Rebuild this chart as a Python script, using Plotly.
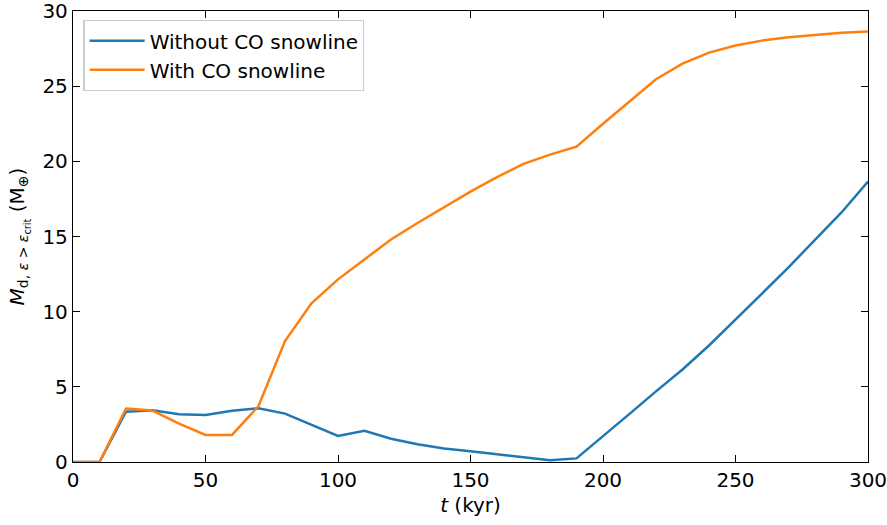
import plotly.graph_objects as go

t_kyr = [0, 10, 20, 30, 40, 50, 60, 70, 80, 90, 100, 110, 120, 130, 140, 150,
         160, 170, 180, 190, 200, 210, 220, 230, 240, 250, 260, 270, 280, 290, 300]

without_co = [0.0, 0.0, 3.35, 3.44, 3.17, 3.13, 3.41, 3.58, 3.22, 2.5, 1.73, 2.08,
              1.55, 1.18, 0.9, 0.72, 0.52, 0.28, 0.11, 0.24, 1.7, 3.2, 4.7, 6.15,
              7.75, 9.45, 11.2, 12.95, 14.75, 16.6, 18.65]

with_co = [0.0, 0.0, 3.55, 3.42, 2.55, 1.8, 1.8, 3.72, 8.05, 10.55, 12.15, 13.5,
           14.8, 15.9, 16.95, 17.98, 18.95, 19.83, 20.45, 20.98, 22.5, 24.0,
           25.46, 26.5, 27.23, 27.7, 28.03, 28.25, 28.42, 28.55, 28.63]

names = ["Without CO snowline", "With CO snowline"]
colors = ["#1f77b4", "#ff7f0e"]

x_ticks = [0, 50, 100, 150, 200, 250, 300]
y_ticks = [0, 5, 10, 15, 20, 25, 30]

font_family = "DejaVu Sans"
fs = 20

fig = go.Figure()
for name, ys, c in zip(names, [without_co, with_co], colors):
    fig.add_trace(go.Scatter(x=t_kyr, y=ys, mode="lines", name=name,
                             line=dict(color=c, width=2.5)))

axis_common = dict(
    showline=True, linecolor="black", linewidth=1.3, mirror="ticks",
    ticks="inside", ticklen=7, tickwidth=1.3, tickcolor="black",
    showgrid=False, zeroline=False, automargin=False,
    ticklabeloverflow="allow",
    tickfont=dict(family=font_family, size=fs, color="black"),
)

fig.update_xaxes(range=[0, 300], tickvals=x_ticks,
                 title=dict(text="<i>t</i> (kyr)", font=dict(family=font_family, size=fs, color="black"), standoff=6),
                 **axis_common)
fig.update_yaxes(range=[0, 30], tickvals=y_ticks,
                 title=dict(text="<i>M</i><sub>d, <i>ε</i> > <i>ε</i><sub>crit</sub></sub> (M<sub>⊕</sub>)",
                            font=dict(family=font_family, size=fs, color="black"), standoff=12),
                 **axis_common)

fig.update_layout(
    width=887, height=525,
    margin=dict(l=73, r=19, t=11, b=63),
    paper_bgcolor="white", plot_bgcolor="white",
    font=dict(family=font_family, size=fs, color="black"),
    showlegend=True,
    legend=dict(x=0.013, y=0.98, xanchor="left", yanchor="top",
                bgcolor="rgba(255,255,255,0.8)", bordercolor="#cccccc", borderwidth=1.3,
                font=dict(family=font_family, size=fs, color="black"),
                itemwidth=55, tracegroupgap=0),
)

fig.write_html("out.html")
